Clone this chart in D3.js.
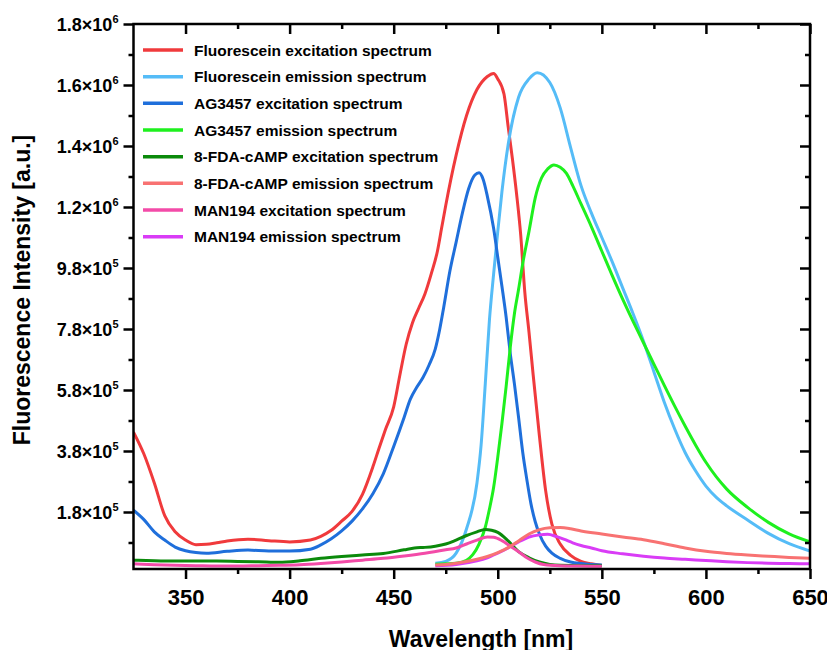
<!DOCTYPE html>
<html>
<head>
<meta charset="utf-8">
<script src="https://cdn.jsdelivr.net/npm/d3@7"></script>
<style>
  body { margin: 0; background: #fff; }
  text { font-family: "Liberation Sans", Arial, sans-serif; font-weight: bold; fill: #000; }
</style>
</head>
<body>
<div id="chart"></div>
<script>
// [wavelength nm, intensity a.u.]
var fluoresceinEx = [[325,442000],[330,370000],[335,275000],[340,168000],[345,115000],[350,88000],[355,73000],[360,74000],[365,79000],[370,85000],[380,91000],[390,86000],[400,82000],[410,88000],[415,100000],[420,120000],[425,150000],[430,182000],[435,238000],[440,328000],[443,390000],[446,450000],[450,525000],[453,630000],[456,730000],[459,800000],[462,848000],[465,895000],[468,960000],[471,1035000],[473,1110000],[475,1185000],[480,1350000],[485,1480000],[490,1565000],[495,1608000],[498,1618000],[500,1600000],[503,1550000],[505,1443000],[507,1340000],[509,1225000],[511,1090000],[513,900000],[515,770000],[517,630000],[520,430000],[523,250000],[526,140000],[530,75000],[535,38000],[540,18000],[545,10000],[550,5000]];
var fluoresceinEm = [[470,12000],[475,18000],[480,45000],[485,125000],[490,275000],[492,400000],[494,600000],[496,810000],[498,960000],[500,1100000],[502,1230000],[505,1385000],[510,1540000],[515,1600000],[519,1620000],[525,1588000],[530,1505000],[535,1375000],[540,1250000],[545,1160000],[550,1080000],[555,1000000],[560,915000],[565,830000],[570,740000],[575,640000],[580,540000],[585,452000],[590,375000],[595,315000],[600,265000],[605,228000],[610,200000],[620,154000],[630,110000],[640,76000],[650,52000]];
var ag3457Ex = [[325,186000],[330,155000],[335,115000],[340,88000],[345,65000],[350,53000],[355,47000],[360,45000],[370,51000],[380,55000],[390,52000],[400,52000],[410,58000],[415,72000],[420,92000],[425,118000],[430,150000],[435,190000],[440,240000],[445,305000],[450,395000],[455,490000],[458,550000],[461,588000],[464,620000],[467,662000],[470,715000],[472,775000],[474,850000],[477,970000],[480,1065000],[483,1160000],[486,1240000],[489,1285000],[491,1292000],[493,1270000],[495,1215000],[498,1110000],[500,1015000],[502,920000],[504,820000],[506,700000],[508,600000],[510,490000],[512,375000],[514,285000],[516,205000],[518,148000],[520,108000],[523,68000],[526,45000],[530,28000],[535,16000],[540,11000],[545,8000],[550,6000]];
var ag3457Em = [[470,9000],[475,10000],[480,12000],[485,22000],[488,40000],[491,75000],[494,130000],[496,190000],[498,260000],[500,360000],[502,470000],[504,590000],[506,720000],[508,830000],[510,910000],[512,995000],[515,1100000],[518,1210000],[521,1275000],[524,1305000],[527,1318000],[530,1310000],[533,1290000],[536,1250000],[540,1190000],[545,1115000],[550,1035000],[555,955000],[560,878000],[565,805000],[570,735000],[575,665000],[580,595000],[585,527000],[590,462000],[595,400000],[600,343000],[605,295000],[610,255000],[620,195000],[630,146000],[640,108000],[650,82000]];
var fdaCampEx = [[325,22000],[335,20000],[345,19000],[355,19000],[365,19000],[375,18000],[385,17000],[395,15000],[405,20000],[415,28000],[425,34000],[435,39000],[445,44000],[455,56000],[460,62000],[465,64000],[470,68000],[475,75000],[480,88000],[485,103000],[490,115000],[494,123000],[497,120000],[500,113000],[505,85000],[510,50000],[515,30000],[520,16000],[525,8000],[530,5000],[540,4000],[550,4000]];
var fdaCampEm = [[470,6000],[475,8000],[480,12000],[485,18000],[490,25000],[495,34000],[500,47000],[505,63000],[510,85000],[515,108000],[520,122000],[525,128000],[530,129000],[535,125000],[540,118000],[550,108000],[560,98000],[570,89000],[580,76000],[590,62000],[600,51000],[610,44000],[620,39000],[630,35000],[640,31000],[650,28000]];
var man194Ex = [[325,10000],[335,7000],[345,5000],[355,4000],[365,3000],[375,3000],[385,4000],[395,5000],[405,7000],[415,11000],[425,16000],[435,22000],[445,28000],[455,36000],[465,45000],[475,56000],[480,62000],[485,75000],[490,88000],[495,98000],[498,97000],[502,86000],[506,68000],[510,50000],[514,30000],[518,16000],[522,8000],[530,4000],[540,3000],[550,2000]];
var man194Em = [[470,4000],[480,8000],[490,20000],[495,30000],[500,45000],[505,62000],[510,82000],[515,98000],[520,105000],[524,107000],[528,100000],[532,90000],[536,79000],[540,70000],[545,62000],[550,53000],[560,43000],[570,35000],[580,29000],[590,25000],[600,21000],[610,17000],[620,14000],[630,12000],[640,11000],[650,10000]];

var seriesNames = ["Fluorescein excitation spectrum", "Fluorescein emission spectrum",
                   "AG3457 excitation spectrum", "AG3457 emission spectrum",
                   "8-FDA-cAMP excitation spectrum", "8-FDA-cAMP emission spectrum",
                   "MAN194 excitation spectrum", "MAN194 emission spectrum"];
var seriesData = [fluoresceinEx, fluoresceinEm, ag3457Ex, ag3457Em, fdaCampEx, fdaCampEm, man194Ex, man194Em];
var seriesColors = ["#f03a3c", "#55bcf7", "#1f6fdb", "#1ef01e", "#0b8a0b", "#f87272", "#f34ba8", "#d93cf6"];
var drawOrder = [0, 1, 2, 3, 4, 6, 7, 5];

var xTicks = [350, 400, 450, 500, 550, 600, 650];
var yTicks = [180000, 380000, 580000, 780000, 980000, 1180000, 1380000, 1580000, 1780000];

(function() {
  var W = 827, H = 650;
  var left = 133.5, right = 810, top = 24, bottom = 569;

  var svg = d3.select("#chart")
    .append("svg")
    .attr("width", W)
    .attr("height", H);

  var x = d3.scaleLinear().domain([325, 650]).range([left, right]);
  var y = d3.scaleLinear().domain([-6900, 1780000]).range([bottom, top]);

  svg.append("clipPath").attr("id", "plotclip")
    .append("rect")
    .attr("x", left).attr("y", top)
    .attr("width", right - left).attr("height", bottom - top);

  var line = d3.line()
    .x(d => x(d[0]))
    .y(d => y(d[1]))
    .curve(d3.curveMonotoneX);

  var curves = svg.append("g").attr("clip-path", "url(#plotclip)");
  drawOrder.forEach(function(i) {
    curves.append("path")
      .datum(seriesData[i])
      .attr("d", line)
      .attr("fill", "none")
      .attr("stroke", seriesColors[i])
      .attr("stroke-width", 3)
      .attr("stroke-linejoin", "round");
  });

  // minor ticks sit half way between the majors
  var xMinor = d3.range(375, 650, 50);
  var yMinor = yTicks.slice(0, -1).map(v => v + 100000).concat([80000]);

  // bottom axis, outward ticks
  var xAxis = svg.append("g")
    .attr("transform", `translate(0, ${bottom})`)
    .call(d3.axisBottom(x).tickValues(xTicks).tickSize(10).tickPadding(10).tickFormat(d3.format("d")));
  xAxis.select(".domain").remove();
  xAxis.selectAll("line").attr("stroke-width", 2.5);
  xAxis.selectAll("text").attr("font-size", 22);

  var xAxisMinor = svg.append("g")
    .attr("transform", `translate(0, ${bottom})`)
    .call(d3.axisBottom(x).tickValues(xMinor).tickSize(5).tickFormat(""));
  xAxisMinor.select(".domain").remove();
  xAxisMinor.selectAll("line").attr("stroke-width", 2.5);

  // top mirror, inward
  var xTop = svg.append("g")
    .attr("transform", `translate(0, ${top})`)
    .call(d3.axisBottom(x).tickValues(xTicks).tickSize(10).tickFormat(""));
  xTop.select(".domain").remove();
  xTop.selectAll("line").attr("stroke-width", 2.5);
  var xTopMinor = svg.append("g")
    .attr("transform", `translate(0, ${top})`)
    .call(d3.axisBottom(x).tickValues(xMinor).tickSize(5).tickFormat(""));
  xTopMinor.select(".domain").remove();
  xTopMinor.selectAll("line").attr("stroke-width", 2.5);

  // left axis with 1.8x10^5 style labels
  var yAxis = svg.append("g")
    .attr("transform", `translate(${left}, 0)`)
    .call(d3.axisLeft(y).tickValues(yTicks).tickSize(10).tickFormat(""));
  yAxis.select(".domain").remove();
  yAxis.selectAll("line").attr("stroke-width", 2.5);

  var fmt = d3.format(".1e");
  yAxis.selectAll(".tick").each(function(d) {
    var parts = fmt(d).split("e");
    var t = d3.select(this).append("text")
      .attr("x", -15)
      .attr("dy", "0.36em")
      .attr("text-anchor", "end")
      .attr("font-size", 18);
    t.append("tspan").text(parts[0] + "\u00d710");
    t.append("tspan").attr("dy", -8).attr("font-size", 11).text(+parts[1]);
  });

  var yAxisMinor = svg.append("g")
    .attr("transform", `translate(${left}, 0)`)
    .call(d3.axisLeft(y).tickValues(yMinor).tickSize(5).tickFormat(""));
  yAxisMinor.select(".domain").remove();
  yAxisMinor.selectAll("line").attr("stroke-width", 2.5);

  // right mirror, inward
  var yRight = svg.append("g")
    .attr("transform", `translate(${right}, 0)`)
    .call(d3.axisLeft(y).tickValues(yTicks).tickSize(10).tickFormat(""));
  yRight.select(".domain").remove();
  yRight.selectAll("line").attr("stroke-width", 2.5);
  var yRightMinor = svg.append("g")
    .attr("transform", `translate(${right}, 0)`)
    .call(d3.axisLeft(y).tickValues(yMinor).tickSize(5).tickFormat(""));
  yRightMinor.select(".domain").remove();
  yRightMinor.selectAll("line").attr("stroke-width", 2.5);

  svg.selectAll(".tick text").attr("font-family", null).attr("fill", "#000");

  // frame
  svg.append("rect")
    .attr("x", left).attr("y", top)
    .attr("width", right - left).attr("height", bottom - top)
    .attr("fill", "none")
    .attr("stroke", "#000")
    .attr("stroke-width", 2.5);

  // axis titles
  svg.append("text")
    .attr("x", 481).attr("y", 647)
    .attr("text-anchor", "middle")
    .attr("font-size", 23)
    .text("Wavelength [nm]");

  svg.append("text")
    .attr("transform", "translate(30, 290) rotate(-90)")
    .attr("text-anchor", "middle")
    .attr("font-size", 23)
    .text("Fluorescence Intensity [a.u.]");

  // legend
  var legend = svg.append("g");
  seriesNames.forEach(function(name, i) {
    var cy = 50 + i * 26.67;
    legend.append("line")
      .attr("x1", 143).attr("x2", 183)
      .attr("y1", cy).attr("y2", cy)
      .attr("stroke", seriesColors[i])
      .attr("stroke-width", 3.5);
    legend.append("text")
      .attr("x", 194).attr("y", cy)
      .attr("dy", "0.36em")
      .attr("font-size", 15.5)
      .text(name);
  });
})();
</script>
</body>
</html>
